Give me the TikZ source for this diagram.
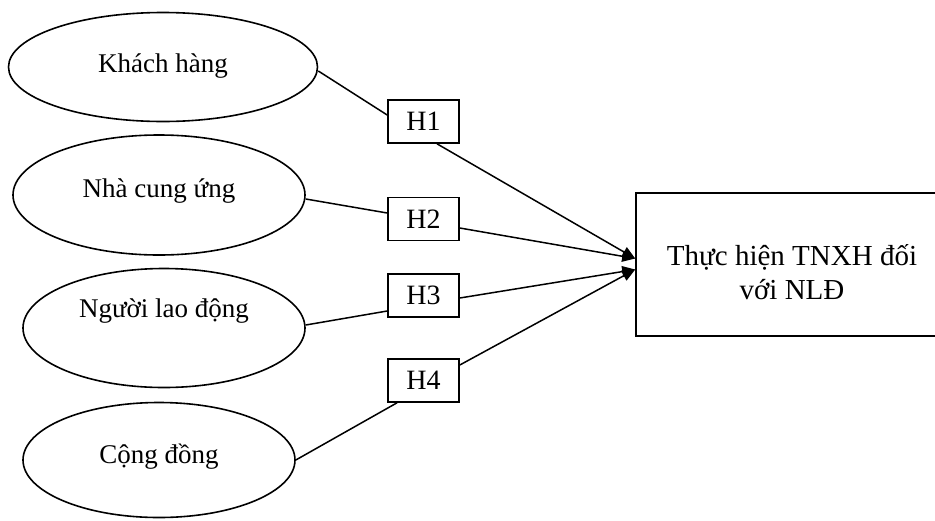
\documentclass[tikz,border=0pt]{standalone}
\usepackage{fontspec}
\setmainfont{Liberation Serif}
\usetikzlibrary{shapes.geometric,arrows.meta,calc}
\begin{document}
\begin{tikzpicture}[x=0.5pt,y=-0.5pt,
  ell/.style={draw,ellipse,line width=0.8pt,inner sep=0pt},
  etext/.style={anchor=base,inner sep=0pt,font=\fontsize{13.5}{16}\selectfont},
  hbox/.style={draw,rectangle,line width=0.8pt,minimum width=35.5pt,minimum height=21.5pt,inner sep=0pt,font=\fontsize{14}{16}\selectfont},
  conn/.style={line width=0.75pt},
  arr/.style={line width=0.75pt,-{Triangle[length=6.5pt,width=5.5pt]}}
]
\useasboundingbox (0,0) rectangle (935,520);
\clip (0,0) rectangle (935,520);

% ellipses
\node[ell,minimum width=154.5pt,minimum height=54.5pt] (e1) at (163,67) {};
\node[ell,minimum width=146pt,minimum height=60pt] (e2) at (159,195) {};
\node[ell,minimum width=141pt,minimum height=59.5pt] (e3) at (164,328) {};
\node[ell,minimum width=136pt,minimum height=57.5pt] (e4) at (159,460) {};

\node[etext] (t1) at (163,72) {Khách hàng};
\node[etext] (t2) at (159,197) {Nhà cung ứng};
\node[etext] (t3) at (164,317) {Người lao động};
\node[etext] (t4) at (159,463) {Cộng đồng};

% hypothesis boxes
\node[hbox] (h1) at (423.5,121.5) {H1};
\node[hbox] (h2) at (423.5,219) {H2};
\node[hbox] (h3) at (423.5,295.5) {H3};
\node[hbox] (h4) at (423.5,380.5) {H4};

% outcome box
\node[draw,rectangle,line width=0.8pt,minimum width=156pt,minimum height=71.5pt] (r) at (792,264.5) {};
\node[align=center,inner sep=0pt,font=\fontsize{14.5}{17}\selectfont] (rt) at (792,272)
      {Thực hiện TNXH đối\\với NLĐ};

\coordinate (tA) at ($(r.west)+(0,-6)$);
\coordinate (tB) at ($(r.west)+(0,5)$);

% connectors
\draw[conn] ($(e1.east)+(0,4)$) -- ($(h1.west)+(0,-6.5)$);
\draw[conn] ($(e2.east)+(0,4)$) -- ($(h2.west)+(0,-6)$);
\draw[conn] ($(e3.east)+(0,-3)$) -- ($(h3.west)+(0,15.5)$);
\draw[conn] (e4.east) -- ($(h4.south)+(-26.5,0)$);

\draw[arr] ($(h1.south)+(13.5,0)$) -- (tA);
\draw[arr] ($(h2.east)+(0,9)$) -- (tA);
\draw[arr] ($(h3.east)+(0,2.5)$) -- (tB);
\draw[arr] ($(h4.east)+(0,-15.5)$) -- (tB);
\end{tikzpicture}
\end{document}
